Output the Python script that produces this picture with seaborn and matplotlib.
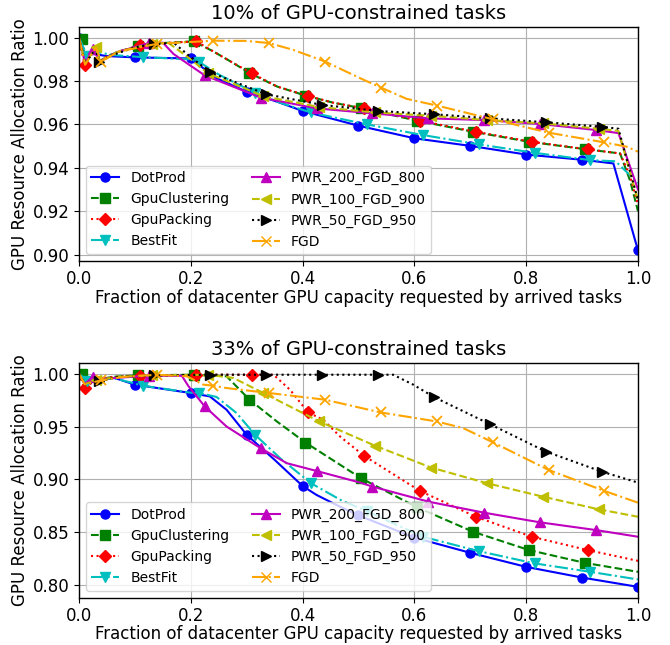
import numpy as np
import pandas as pd
import matplotlib
matplotlib.use("Agg")
import matplotlib.pyplot as plt
from matplotlib.lines import Line2D
import seaborn as sns

# ---------------------------------------------------------------- data
methods = ["DotProd", "GpuClustering", "GpuPacking", "BestFit",
           "PWR_200_FGD_800", "PWR_100_FGD_900", "PWR_50_FGD_950", "FGD"]
titles = ["10% of GPU-constrained tasks", "33% of GPU-constrained tasks"]
x_label = "Fraction of datacenter GPU capacity requested by arrived tasks"
y_label = "GPU Resource Allocation Ratio"
x_ticks = [0.0, 0.2, 0.4, 0.6, 0.8, 1.0]
top_y_ticks = [0.90, 0.92, 0.94, 0.96, 0.98, 1.00]
bottom_y_ticks = [0.80, 0.85, 0.90, 0.95, 1.00]

# first marked sample of every method (markers repeat every 0.1)
mark_offsets = [0.0, 0.005, 0.01, 0.015, 0.025, 0.03, 0.035, 0.04]

# --- 10% GPU-constrained tasks
top_dotprod_x = [0, 0.012, 0.025, 0.05, 0.1, 0.2, 0.222, 0.246, 0.3, 0.354, 0.4, 0.5, 0.6, 0.7, 0.8, 0.9, 0.956, 1.0]
top_dotprod_y = [1.0, 0.991, 0.9925, 0.9915, 0.9909, 0.9904, 0.986, 0.9813, 0.9751, 0.9705, 0.9662, 0.9594, 0.9536, 0.9501, 0.9461, 0.9437, 0.942, 0.9019]

top_gpuclustering_x = [0, 0.005, 0.011, 0.022, 0.032, 0.037, 0.05, 0.07, 0.105, 0.15, 0.205, 0.24, 0.276, 0.305, 0.354, 0.405, 0.455, 0.505, 0.605, 0.705, 0.805, 0.905, 0.968, 0.986, 1.0]
top_gpuclustering_y = [1.0, 0.9995, 0.9872, 0.993, 0.9955, 0.989, 0.9913, 0.9935, 0.9962, 0.9975, 0.9983, 0.9937, 0.9883, 0.9837, 0.9775, 0.9733, 0.970, 0.9675, 0.9617, 0.9566, 0.952, 0.9486, 0.9466, 0.934, 0.920]

top_gpupacking_x = [0, 0.01, 0.022, 0.032, 0.037, 0.05, 0.07, 0.11, 0.15, 0.21, 0.24, 0.276, 0.31, 0.354, 0.41, 0.455, 0.51, 0.61, 0.71, 0.81, 0.91, 0.968, 0.986, 1.0]
top_gpupacking_y = [1.0, 0.9872, 0.993, 0.9955, 0.989, 0.9913, 0.9935, 0.9964, 0.9975, 0.9983, 0.9937, 0.9883, 0.9835, 0.9775, 0.9731, 0.970, 0.9674, 0.9617, 0.9566, 0.952, 0.9485, 0.9466, 0.936, 0.923]

top_bestfit_x = [0, 0.015, 0.03, 0.06, 0.115, 0.2, 0.215, 0.25, 0.315, 0.36, 0.415, 0.515, 0.615, 0.715, 0.815, 0.915, 0.96, 1.0]
top_bestfit_y = [1.0, 0.9915, 0.9935, 0.992, 0.991, 0.990, 0.9888, 0.983, 0.9745, 0.970, 0.9655, 0.960, 0.9551, 0.9508, 0.9469, 0.9435, 0.943, 0.933]

top_pwr200_x = [0, 0.011, 0.025, 0.037, 0.07, 0.125, 0.15, 0.169, 0.2, 0.225, 0.325, 0.425, 0.525, 0.625, 0.725, 0.825, 0.925, 0.965, 1.0]
top_pwr200_y = [1.0, 0.988, 0.995, 0.989, 0.9935, 0.9975, 0.9977, 0.9925, 0.987, 0.9826, 0.9724, 0.9674, 0.9651, 0.9628, 0.962, 0.9602, 0.9574, 0.956, 0.930]

top_pwr100_x = [0, 0.011, 0.03, 0.037, 0.07, 0.13, 0.16, 0.2, 0.23, 0.33, 0.43, 0.53, 0.63, 0.73, 0.83, 0.93, 0.965, 1.0]
top_pwr100_y = [1.0, 0.988, 0.9955, 0.989, 0.9935, 0.9973, 0.9976, 0.990, 0.9837, 0.973, 0.968, 0.9655, 0.964, 0.962, 0.9605, 0.958, 0.957, 0.925]

top_pwr50_x = [0, 0.011, 0.03, 0.035, 0.06, 0.1, 0.135, 0.17, 0.2, 0.235, 0.335, 0.435, 0.535, 0.635, 0.735, 0.835, 0.935, 0.965, 1.0]
top_pwr50_y = [1.0, 0.988, 0.995, 0.989, 0.992, 0.9955, 0.9972, 0.9975, 0.991, 0.984, 0.9739, 0.969, 0.9662, 0.9647, 0.9628, 0.961, 0.9589, 0.958, 0.925]

top_fgd_x = [0, 0.011, 0.03, 0.04, 0.07, 0.14, 0.2, 0.24, 0.30, 0.34, 0.383, 0.44, 0.503, 0.54, 0.586, 0.64, 0.74, 0.84, 0.94, 0.98, 1.0]
top_fgd_y = [1.0, 0.9875, 0.9955, 0.989, 0.9935, 0.9972, 0.998, 0.9986, 0.9985, 0.9975, 0.9944, 0.989, 0.9813, 0.977, 0.9718, 0.9687, 0.9624, 0.9562, 0.9517, 0.9497, 0.9474]

# --- 33% GPU-constrained tasks
bot_dotprod_x = [0, 0.01, 0.03, 0.064, 0.1, 0.2, 0.234, 0.264, 0.3, 0.35, 0.4, 0.425, 0.461, 0.5, 0.6, 0.7, 0.8, 0.9, 1.0]
bot_dotprod_y = [1.0, 0.993, 0.994, 0.9959, 0.9896, 0.9817, 0.9785, 0.9659, 0.9422, 0.9185, 0.8938, 0.8853, 0.8758, 0.866, 0.845, 0.8306, 0.8173, 0.8072, 0.7984]

bot_gpuclustering_x = [0, 0.005, 0.01, 0.03, 0.06, 0.105, 0.205, 0.264, 0.305, 0.354, 0.405, 0.505, 0.605, 0.705, 0.805, 0.905, 1.0]
bot_gpuclustering_y = [1.0, 0.9995, 0.99, 0.994, 0.997, 0.9984, 0.999, 0.9975, 0.9754, 0.9548, 0.9349, 0.901, 0.8736, 0.8505, 0.8332, 0.8211, 0.8126]

bot_gpupacking_x = [0, 0.01, 0.03, 0.06, 0.11, 0.21, 0.31, 0.348, 0.3775, 0.41, 0.437, 0.467, 0.51, 0.61, 0.71, 0.81, 0.91, 1.0]
bot_gpupacking_y = [1.0, 0.9864, 0.994, 0.997, 0.9975, 0.999, 0.999, 0.999, 0.9848, 0.9633, 0.9564, 0.9406, 0.9223, 0.8891, 0.8647, 0.8458, 0.8332, 0.823]

bot_bestfit_x = [0, 0.015, 0.03, 0.064, 0.115, 0.2, 0.215, 0.246, 0.282, 0.315, 0.36, 0.415, 0.47, 0.515, 0.615, 0.715, 0.815, 0.915, 1.0]
bot_bestfit_y = [1.0, 0.993, 0.994, 0.9955, 0.9886, 0.982, 0.9817, 0.978, 0.9627, 0.9422, 0.920, 0.8964, 0.880, 0.870, 0.8458, 0.8322, 0.8206, 0.8126, 0.8054]

bot_pwr200_x = [0, 0.01, 0.025, 0.05, 0.125, 0.184, 0.196, 0.225, 0.264, 0.325, 0.372, 0.425, 0.503, 0.525, 0.625, 0.725, 0.825, 0.925, 1.0]
bot_pwr200_y = [1.0, 0.99, 0.997, 0.9955, 0.998, 0.998, 0.988, 0.969, 0.950, 0.9295, 0.9153, 0.908, 0.897, 0.8932, 0.879, 0.8685, 0.8594, 0.8521, 0.8458]

bot_pwr100_x = [0, 0.01, 0.03, 0.07, 0.13, 0.23, 0.276, 0.33, 0.43, 0.53, 0.63, 0.73, 0.83, 0.93, 1.0]
bot_pwr100_y = [1.0, 0.99, 0.9937, 0.997, 0.9985, 0.999, 0.996, 0.9817, 0.9548, 0.9318, 0.9112, 0.8964, 0.8837, 0.8717, 0.8647]

bot_pwr50_x = [0, 0.01, 0.035, 0.07, 0.135, 0.235, 0.335, 0.435, 0.535, 0.562, 0.598, 0.635, 0.735, 0.835, 0.935, 1.0]
bot_pwr50_y = [1.0, 0.99, 0.9927, 0.997, 0.9984, 0.999, 0.999, 0.999, 0.999, 0.999, 0.9896, 0.9779, 0.9523, 0.9264, 0.9074, 0.897]

bot_fgd_x = [0, 0.01, 0.04, 0.08, 0.14, 0.193, 0.2225, 0.24, 0.264, 0.34, 0.44, 0.54, 0.64, 0.6875, 0.74, 0.84, 0.94, 1.0]
bot_fgd_y = [1.0, 0.99, 0.9937, 0.997, 0.999, 0.9975, 0.9896, 0.9886, 0.9864, 0.9817, 0.9754, 0.9633, 0.9548, 0.9485, 0.9352, 0.909, 0.8891, 0.878]

top_series = [
    (top_dotprod_x, top_dotprod_y), (top_gpuclustering_x, top_gpuclustering_y),
    (top_gpupacking_x, top_gpupacking_y), (top_bestfit_x, top_bestfit_y),
    (top_pwr200_x, top_pwr200_y), (top_pwr100_x, top_pwr100_y),
    (top_pwr50_x, top_pwr50_y), (top_fgd_x, top_fgd_y),
]
bottom_series = [
    (bot_dotprod_x, bot_dotprod_y), (bot_gpuclustering_x, bot_gpuclustering_y),
    (bot_gpupacking_x, bot_gpupacking_y), (bot_bestfit_x, bot_bestfit_y),
    (bot_pwr200_x, bot_pwr200_y), (bot_pwr100_x, bot_pwr100_y),
    (bot_pwr50_x, bot_pwr50_y), (bot_fgd_x, bot_fgd_y),
]

# ---------------------------------------------------------------- style
colors = ["#0000ff", "#008000", "#ff0000", "#00bfbf",
          "#bf00bf", "#bfbf00", "#000000", "#ffa500"]
linestyles = ["-", "--", ":", "-.", "-", "--", ":", "-."]
markers = ["o", "s", "D", "v", "^", "<", ">", "x"]

plt.rcParams.update({
    "font.family": ["DejaVu Sans"],
    "axes.facecolor": "white",
    "axes.edgecolor": "black",
    "axes.linewidth": 1.0,
    "axes.labelpad": 0.5,
    "grid.color": "#b0b0b0",
    "grid.linewidth": 0.8,
    "xtick.labelsize": 12,
    "ytick.labelsize": 12,
    "xtick.major.pad": 3.0,
    "ytick.major.pad": 3.5,
    "xtick.major.size": 3.5,
    "ytick.major.size": 3.5,
})


def marked_indices(xs, offset):
    """Indices of samples sitting on the 0.1-spaced marker grid."""
    idx = []
    for i, v in enumerate(xs):
        k = (v - offset) / 0.1
        if k > -1e-6 and abs(k - round(k)) < 1e-4:
            idx.append(i)
    return idx


def draw_panel(ax, series, title, yticks, yfmt):
    for name, (xs, ys), c, ls, mk, off in zip(methods, series, colors,
                                             linestyles, markers, mark_offsets):
        df = pd.DataFrame({"x": xs, "y": ys})
        sns.lineplot(data=df, x="x", y="y", ax=ax, sort=False, estimator=None,
                     color=c, linestyle=ls, linewidth=1.5, marker=mk,
                     markersize=6.5, markevery=marked_indices(xs, off),
                     markeredgewidth=1.0 if mk != "x" else 1.3,
                     markeredgecolor=c, markerfacecolor=c)
    ax.set_xlim(0, 1.0)
    ax.set_xticks(x_ticks)
    ax.set_xticklabels([f"{t:.1f}" for t in x_ticks])
    ax.set_yticks(yticks)
    ax.set_yticklabels([yfmt.format(t) for t in yticks])
    ax.grid(True)
    ax.set_axisbelow(True)
    ax.set_title(title, fontsize=14)
    ax.set_xlabel(x_label, fontsize=12)
    ax.set_ylabel(y_label, fontsize=12, labelpad=2.5)
    handles = [Line2D([], [], color=c, linestyle=ls, marker=mk, linewidth=1.5,
                      markersize=6.5, markeredgecolor=c, markerfacecolor=c)
               for c, ls, mk in zip(colors, linestyles, markers)]
    ax.legend(handles, methods, loc="lower left", ncol=2, fontsize=10,
              framealpha=0.8, columnspacing=1.6)


fig = plt.figure(figsize=(6.7, 6.45), dpi=100)
ax_top = fig.add_axes([0.1179, 0.5953, 0.8343, 0.3628])
ax_bot = fig.add_axes([0.1179, 0.0736, 0.8343, 0.3636])

draw_panel(ax_top, top_series, titles[0], top_y_ticks, "{:.2f}")
draw_panel(ax_bot, bottom_series, titles[1], bottom_y_ticks, "{:.2f}")

fig.savefig("out.png", dpi=100)
